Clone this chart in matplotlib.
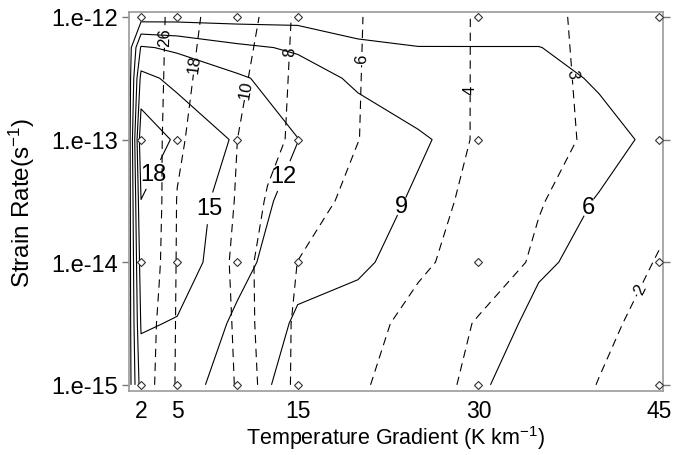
import numpy as np
import matplotlib
matplotlib.use('Agg')
import matplotlib.pyplot as plt

plt.rcParams['font.family'] = ['Liberation Sans', 'DejaVu Sans']
plt.rcParams['mathtext.fontset'] = 'custom'
plt.rcParams['mathtext.rm'] = 'Liberation Sans'
plt.rcParams['mathtext.it'] = 'Liberation Sans:italic'
plt.rcParams['lines.scale_dashes'] = False

# sampled model points (diamonds)
sample_grad = [2, 5, 10, 15, 30, 45]
sample_exp = [-15, -14, -13, -12]

# solid-contour field
solid_grad = [1, 2, 5, 10, 15, 20, 25, 30, 35, 40, 45]
solid_exp = [-15, -14.5, -14, -13.5, -13, -12.5, -12.25, -12]
solid_vals = [
    [4.5, 13.5, 13.5, 10.3, 8.0, 7.0, 6.3, 6.2, 5.2, 4.6, 4.3],
    [4.5, 15.3, 14.8, 11.4, 8.6, 8.0, 7.1, 6.8, 5.6, 5.0, 4.6],
    [4.5, 16.5, 16.5, 13.0, 9.9, 9.4, 8.0, 7.3, 6.2, 5.6, 5.0],
    [4.5, 17.95, 16.8, 13.5, 11.0, 10.0, 8.7, 7.7, 6.8, 5.9, 5.3],
    [4.5, 20.15, 17.5, 14.6, 12.05, 10.6, 9.3, 8.0, 7.3, 6.6, 5.6],
    [4.5, 15.85, 14.2, 12.45, 10.4, 8.5, 7.5, 6.9, 6.6, 5.8, 5.2],
    [4.5, 12.3, 11.5, 9.6, 8.6, 6.47, 6.05, 6.05, 6.05, 5.2, 4.8],
    [4.5, 4.8, 4.9, 4.9, 5.0, 4.8, 4.7, 4.6, 4.6, 4.5, 4.4],
]
solid_levels = [6, 9, 12, 15, 18]

# dashed-contour field
dash_grad = [1, 2, 3.5, 5, 7.5, 10, 12.5, 15, 20, 25, 30, 35, 40, 45]
dash_exp = [-15, -14.5, -14, -13.5, -13, -12]
dash_vals = [
    [35, 33, 23.7, 17.2, 13.3, 9.62, 7.2, 5.62, 4.17, 3.36, 2.8, 2.39, 1.98, 1.6],
    [35, 33, 24.8, 17.3, 13.1, 9.3, 7.04, 5.71, 4.49, 3.58, 2.93, 2.54, 2.15, 1.77],
    [35, 33, 26.7, 17.44, 12.8, 8.95, 7.22, 5.98, 5.1, 4.21, 3.48, 2.87, 2.43, 1.95],
    [35, 33, 27.5, 17.66, 13.4, 9.6, 7.8, 6.87, 5.47, 4.49, 3.68, 3.05, 2.6, 2.2],
    [35, 33, 27.4, 19.3, 14.4, 10.0, 8.6, 7.57, 6.03, 4.87, 3.86, 3.26, 2.85, 2.45],
    [35, 32, 27.5, 23.0, 16.6, 12.3, 9.1, 7.7, 6.1, 4.9, 3.86, 3.26, 2.72, 2.2],
]
dash_levels = [2, 3, 4, 6, 8, 10, 18, 26]

x_ticks = [2, 5, 15, 30, 45]
y_ticks = [-15, -14, -13, -12]
y_ticklabels = ['1.e-15', '1.e-14', '1.e-13', '1.e-12']

solid_label_pos = [(4.4, -13.35), (7.7, -13.56), (13.9, -13.3), (23.1, -13.52), (39.3, -13.56)]
dash_label_pos = [(4.0, -12.16), (6.5, -12.38), (10.9, -12.59), (14.0, -12.28),
                  (20.3, -12.34), (29.0, -12.59), (37.4, -12.46), (43.7, -14.23)]

fig = plt.figure(figsize=(6.76, 4.56), dpi=100)
ax = fig.add_axes([0.1908, 0.1404, 0.790, 0.8311])
ax.set_xlim(1.0, 45.32)
ax.set_ylim(-15.05, -11.96)

cs_s = ax.contour(solid_grad, solid_exp, np.array(solid_vals), levels=solid_levels,
                  colors='k', linewidths=0.8)
cs_d = ax.contour(dash_grad, dash_exp, np.array(dash_vals), levels=dash_levels,
                  colors='k', linewidths=0.8)
cs_d.set_linestyle((0, (6, 4)))

ts = cs_s.clabel(solid_levels, manual=solid_label_pos, inline=True, fmt='%d',
                 fontsize=17, inline_spacing=3)
for t in ts:
    t.set_rotation(0)
cs_d.clabel(dash_levels, manual=dash_label_pos, inline=True, fmt='%d',
            fontsize=12, inline_spacing=2)

gx, gy = np.meshgrid(sample_grad, sample_exp)
ax.plot(gx.ravel(), gy.ravel(), ls='none', marker='D', ms=4.5, mfc='white',
        mec='#333333', mew=0.8, clip_on=False, zorder=4)

for s in ax.spines.values():
    s.set_color('#999999')
    s.set_linewidth(1.2)

ax.set_xticks(x_ticks)
ax.set_xticklabels([str(v) for v in x_ticks])
ax.set_yticks(y_ticks)
ax.set_yticklabels(y_ticklabels)
ax.tick_params(axis='x', length=0, pad=6, labelsize=16.5)
ax.tick_params(axis='y', which='both', direction='out', length=5, width=1,
               color='#777777', pad=3, labelsize=17, right=True)

ax.set_xlabel(r'Temperature Gradient (K km$^{\mathregular{-1}}$)', fontsize=15.5)
ax.set_ylabel(r'Strain Rate(s$^{\mathregular{-1}}$)', fontsize=17.5)
ax.xaxis.set_label_coords(0.5, -0.086)
ax.yaxis.set_label_coords(-0.172, 0.5)

fig.savefig('out.png', dpi=100)
